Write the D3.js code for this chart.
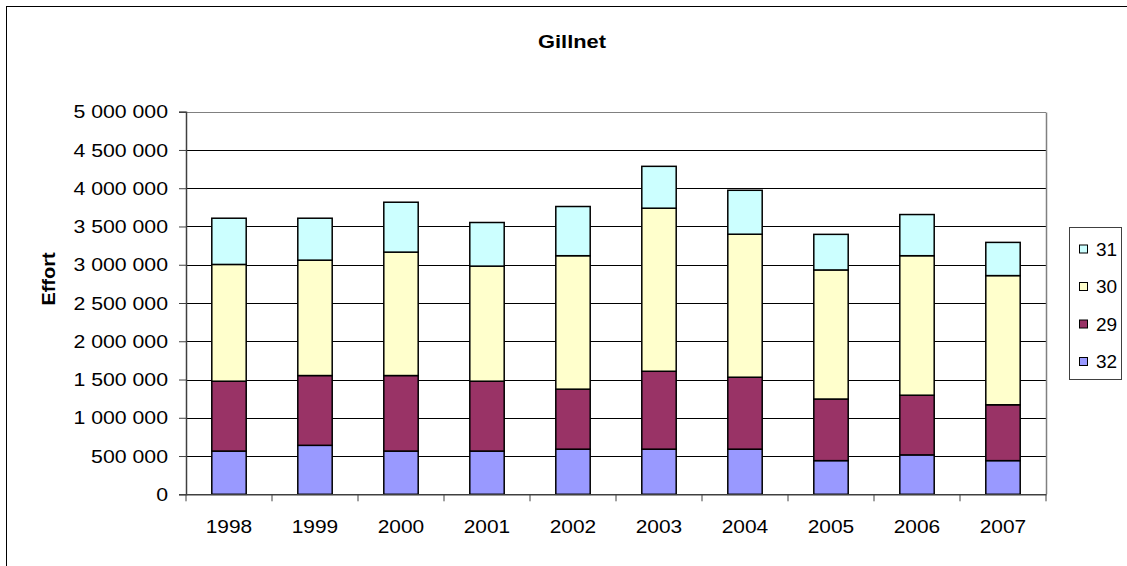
<!DOCTYPE html>
<html>
<head>
<meta charset="utf-8">
<script src="https://cdn.jsdelivr.net/npm/d3@7"></script>
<style>
  html, body { margin: 0; padding: 0; background: #fff; }
  svg { display: block; font-family: "Liberation Sans", Arial, sans-serif; }
</style>
</head>
<body>
<svg id="chart" width="1127" height="566"></svg>
<script>
const years = ["1998","1999","2000","2001","2002","2003","2004","2005","2006","2007"];
const s32 = [565000, 640000, 565000, 565000, 590000, 590000, 590000, 440000, 515000, 440000];
const s29 = [913000, 912000, 987000, 913000, 784000, 1018000, 940000, 805000, 780000, 730000];
const s30 = [1526000, 1508000, 1613000, 1504000, 1744000, 2131000, 1869000, 1687000, 1823000, 1688000];
const s31 = [604000, 548000, 652000, 570000, 643000, 547000, 574000, 465000, 538000, 434000];
const seriesNames = ["32", "29", "30", "31"];
const seriesColors = ["#9999FF", "#993366", "#FFFFCC", "#CCFFFF"];
const yTicks = [0, 500000, 1000000, 1500000, 2000000, 2500000, 3000000, 3500000, 4000000, 4500000, 5000000];
const title = "Gillnet";
const yTitle = "Effort";

const svg = d3.select("#chart");
const L = 186, R = 1046, T = 111.7, B = 494.3;
const FS = 19;

const rows = years.map((y, i) => ({year: y, "32": s32[i], "29": s29[i], "30": s30[i], "31": s31[i]}));
const stack = d3.stack().keys(seriesNames)(rows);

const x = d3.scaleBand().domain(years).range([L, R]).paddingInner(0.6).paddingOuter(0.3);
const y = d3.scaleLinear().domain([0, 5000000]).range([B, T]);

// outer frame
svg.append("rect").attr("x", 6.5).attr("y", 6.5).attr("width", 1140).attr("height", 580)
  .attr("fill", "none").attr("stroke", "#000").attr("stroke-width", 1);

// gridlines
svg.append("g").selectAll("line").data(yTicks.filter(d => d > 0)).join("line")
  .attr("x1", L).attr("x2", R)
  .attr("y1", d => Math.round(y(d)) + 0.5).attr("y2", d => Math.round(y(d)) + 0.5)
  .attr("stroke", d => d === 5000000 ? "#808080" : "#000").attr("stroke-width", 1);

// plot right border
svg.append("line").attr("x1", R + 0.5).attr("x2", R + 0.5).attr("y1", Math.round(T) + 0.5).attr("y2", B)
  .attr("stroke", "#808080").attr("stroke-width", 1.5);

// bars
svg.append("g").selectAll("g").data(stack).join("g")
  .attr("fill", (d, i) => seriesColors[i])
  .selectAll("rect").data(d => d).join("rect")
  .attr("x", d => x(d.data.year))
  .attr("width", x.bandwidth())
  .attr("y", d => y(d[1]))
  .attr("height", d => y(d[0]) - y(d[1]))
  .attr("stroke", "#000").attr("stroke-width", 1.5);

// y axis
const fmt = v => d3.format(",")(v).replace(/,/g, " ");
const yAxis = d3.axisLeft(y).tickValues(yTicks).tickSize(7).tickPadding(10).tickFormat(fmt);
const gy = svg.append("g").attr("transform", `translate(${L},0)`).call(yAxis);
gy.select(".domain").attr("stroke", "#404040").attr("stroke-width", 1.5);
gy.selectAll(".tick line").attr("stroke", "#404040");
gy.selectAll("text").attr("font-size", FS).attr("fill", "#000")
  .attr("font-family", "'Liberation Sans', Arial, sans-serif")
  .attr("x", 0).attr("transform", "translate(-18,0) scale(1.12,1)");

// x axis
const xAxis = d3.axisBottom(x).tickSize(0).tickPadding(0);
const gx = svg.append("g").attr("transform", `translate(0,${B})`).call(xAxis);
gx.select(".domain").attr("stroke", "#404040").attr("stroke-width", 1.5);
gx.selectAll("text").attr("font-size", FS).attr("fill", "#000")
  .attr("font-family", "'Liberation Sans', Arial, sans-serif")
  .attr("y", 0).attr("transform", "translate(0,25.5) scale(1.1,1)");
// category boundary ticks
svg.append("g").selectAll("line").data(d3.range(years.length + 1)).join("line")
  .attr("x1", i => L + i * x.step()).attr("x2", i => L + i * x.step())
  .attr("y1", B).attr("y2", B + 7)
  .attr("stroke", "#404040").attr("stroke-width", 1);

// title
svg.append("text").attr("transform", "translate(572,48) scale(1.15,1)").attr("text-anchor", "middle")
  .attr("font-size", FS).attr("font-weight", "bold").text(title);

// y title
svg.append("text").attr("transform", "translate(55,279) rotate(-90) scale(1.05,1)")
  .attr("text-anchor", "middle").attr("font-size", FS).attr("font-weight", "bold").text(yTitle);

// legend
const lg = svg.append("g");
lg.append("rect").attr("x", 1069.5).attr("y", 227.5).attr("width", 52).attr("height", 152)
  .attr("fill", "#fff").attr("stroke", "#404040").attr("stroke-width", 1);
const legendOrder = [3, 2, 1, 0];
legendOrder.forEach((si, k) => {
  const cy = 249 + k * 37.5;
  lg.append("rect").attr("x", 1079.5).attr("y", cy - 4).attr("width", 8).attr("height", 8)
    .attr("fill", seriesColors[si]).attr("stroke", "#000").attr("stroke-width", 1);
  lg.append("text").attr("x", 1096).attr("y", cy).attr("dy", "0.35em")
    .attr("font-size", FS).text(seriesNames[si]);
});
</script>
</body>
</html>
